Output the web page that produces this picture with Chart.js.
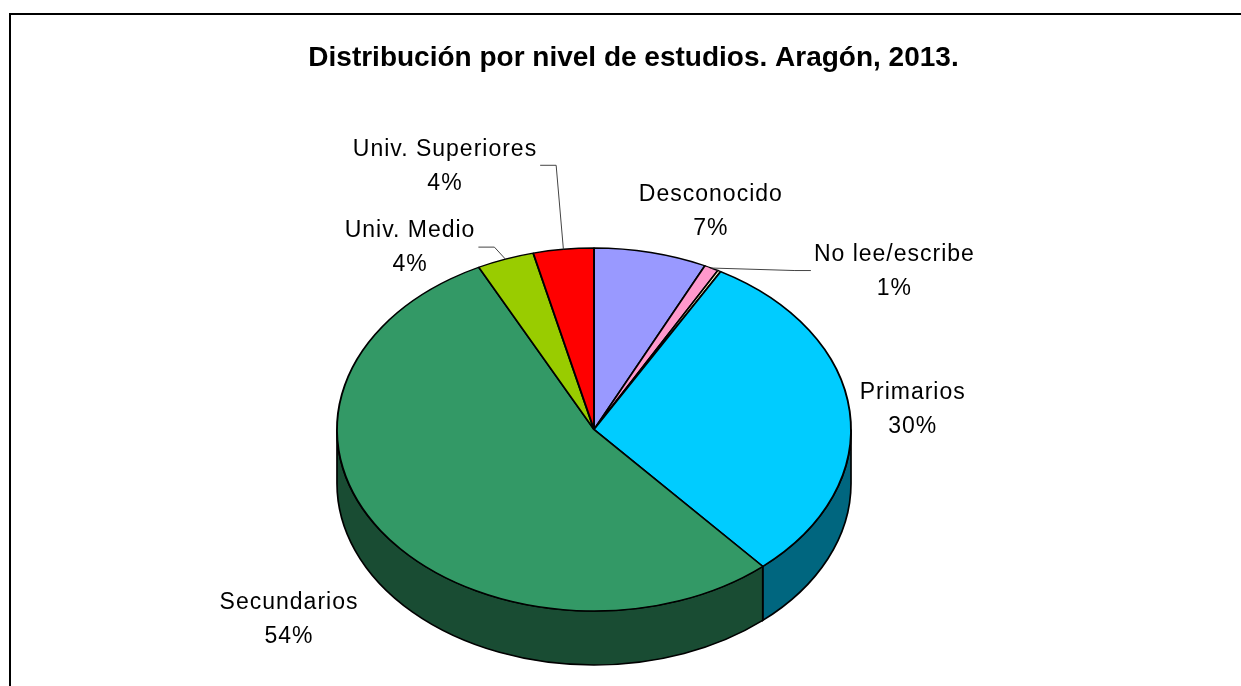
<!DOCTYPE html>
<html>
<head>
<meta charset="utf-8">
<title>Distribución por nivel de estudios. Aragón, 2013.</title>
<script src="https://cdn.jsdelivr.net/npm/chart.js@4.4.1/dist/chart.umd.min.js"></script>
<style>
    html, body { margin: 0; padding: 0; background: #fff; }
    canvas { display: block; }
</style>
</head>
<body>
<canvas id="estudiosPie" width="1241" height="686"></canvas>
<script>
// Porcentajes (el tramo crema sin etiqueta es casi nulo)
const chartTitle = 'Distribución por nivel de estudios. Aragón, 2013.';
const categories = ['Desconocido', 'No lee/escribe', 'Sin datos', 'Primarios', 'Secundarios', 'Univ. Medio', 'Univ. Superiores'];
const values = [7.1, 0.9, 0.2, 30.4, 54.0, 3.6, 3.8];

const sliceColors = ['#9999FF', '#FF99CC', '#FFFFCC', '#00CCFF', '#339966', '#99CC00', '#FF0000'];

// Aspecto del "3D": elipse y grosor del canto
const PIE = { rx: 257, ry: 181.5, depth: 54 };

// Colocación de las etiquetas respecto al borde del sector (px)
const labelLayout = {
    'Desconocido': { dx: 60, dy: -41 },
    'No lee/escribe': { dx: 183, dy: 3.5, leader: true },
    'Primarios': { dx: 63, dy: -2 },
    'Secundarios': { dx: -91.5, dy: 89 },
    'Univ. Medio': { dx: -95.4, dy: -11, leader: true },
    'Univ. Superiores': { dx: -118.4, dy: -83, leader: true }
};

function darker(hex) {
    const n = parseInt(hex.slice(1), 16);
    return 'rgb(' + ((n >> 16) >> 1) + ', ' + (((n >> 8) & 255) >> 1) + ', ' + ((n & 255) >> 1) + ')';
}

function squash(ctx, cx, cy, sx, sy) {
    ctx.translate(cx, cy);
    ctx.scale(sx, sy);
    ctx.translate(-cx, -cy);
}

const pie3d = {
    id: 'pie3d',
    beforeDraw(chart) {
        const ctx = chart.ctx;
        ctx.save();
        ctx.strokeStyle = '#000';
        ctx.lineWidth = 2;
        ctx.beginPath();
        ctx.moveTo(chart.width, 14);
        ctx.lineTo(10, 14);
        ctx.lineTo(10, chart.height);
        ctx.stroke();
        ctx.restore();
    },
    beforeDatasetsDraw(chart) {
        const ctx = chart.ctx;
        const arcs = chart.getDatasetMeta(0).data;
        const { x: cx, y: cy, outerRadius: r } = arcs[0];
        const sx = PIE.rx / r, sy = PIE.ry / r;
        const d = PIE.depth / sy;

        // canto visible (mitad delantera, ángulos 0..PI)
        arcs.forEach((arc, i) => {
            const a0 = Math.max(arc.startAngle, 0);
            const a1 = Math.min(arc.endAngle, Math.PI);
            if (a1 <= a0) return;
            ctx.save();
            squash(ctx, cx, cy, sx, sy);
            ctx.beginPath();
            ctx.arc(cx, cy, r, a0, a1);
            ctx.arc(cx, cy + d, r, a1, a0, true);
            ctx.closePath();
            ctx.restore();
            ctx.fillStyle = darker(sliceColors[i]);
            ctx.fill();
            ctx.lineWidth = 1.7;
            ctx.strokeStyle = '#000';
            ctx.stroke();
        });

        // las caras superiores las pinta Chart.js, aplastadas
        ctx.save();
        squash(ctx, cx, cy, sx, sy);
    },
    afterDatasetsDraw(chart) {
        chart.ctx.restore();
    },
    afterDraw(chart) {
        const ctx = chart.ctx;
        const arcs = chart.getDatasetMeta(0).data;
        const total = values.reduce((a, b) => a + b, 0);
        const { x: cx, y: cy } = arcs[0];

        ctx.save();
        ctx.fillStyle = '#000';
        ctx.textAlign = 'center';
        ctx.textBaseline = 'middle';
        ctx.font = 'bold 28px "Liberation Sans", Arial, sans-serif';
        ctx.fillText(chartTitle, 633.5, 58);

        ctx.font = '23px "Liberation Sans", Arial, sans-serif';
        ctx.letterSpacing = '1px';
        arcs.forEach((arc, i) => {
            const lay = labelLayout[categories[i]];
            if (!lay) return;
            const mid = (arc.startAngle + arc.endAngle) / 2;
            const px = cx + PIE.rx * Math.cos(mid);
            const py = cy + PIE.ry * Math.sin(mid);
            const lx = px + lay.dx, ly = py + lay.dy;
            const lines = [categories[i], Math.round(values[i] / total * 100) + '%'];
            ctx.fillText(lines[0], lx, ly - 17);
            ctx.fillText(lines[1], lx, ly + 17);

            if (lay.leader) {
                const w = Math.max(...lines.map(t => ctx.measureText(t).width));
                const side = px > lx ? 1 : -1;
                const x0 = lx + side * (w / 2 + 3);
                ctx.save();
                ctx.strokeStyle = '#444';
                ctx.lineWidth = 1;
                ctx.beginPath();
                ctx.moveTo(x0, ly - 1);
                ctx.lineTo(x0 + side * 16, ly - 1);
                ctx.lineTo(px, py);
                ctx.stroke();
                ctx.restore();
            }
        });
        ctx.restore();
    }
};

function createEstudiosPie(canvasId) {
    const ctx = document.getElementById(canvasId).getContext('2d');
    return new Chart(ctx, {
        type: 'pie',
        data: {
            labels: categories,
            datasets: [{
                data: values,
                backgroundColor: sliceColors,
                borderColor: '#000',
                borderWidth: 1.9,
                clip: false
            }]
        },
        options: {
            responsive: false,
            animation: false,
            events: [],
            layout: {
                padding: { left: 337, right: 390, top: 173, bottom: 0 }
            },
            plugins: {
                legend: { display: false },
                title: { display: false },
                tooltip: { enabled: false }
            }
        },
        plugins: [pie3d]
    });
}

createEstudiosPie('estudiosPie');
</script>
</body>
</html>
